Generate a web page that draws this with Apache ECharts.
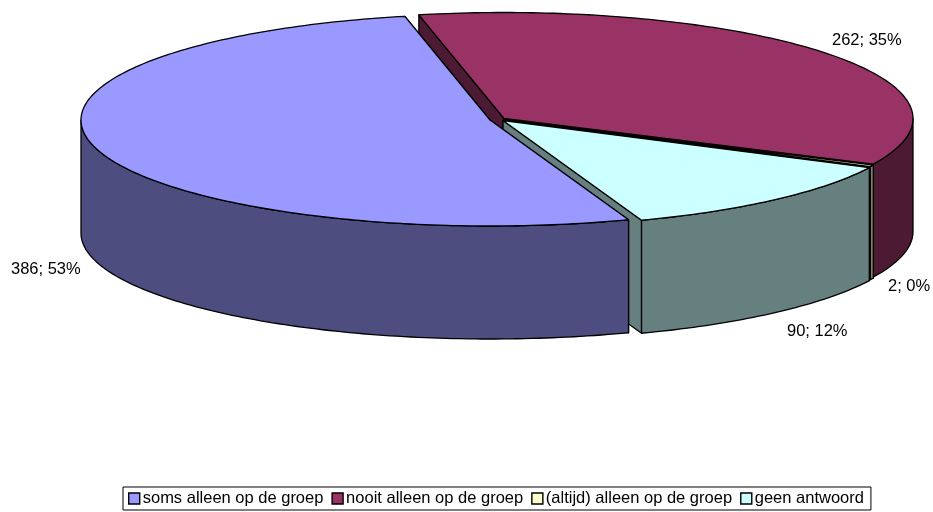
<!DOCTYPE html>
<html><head><meta charset="utf-8">
<style>html,body{margin:0;padding:0;background:#fff}#c{width:933px;height:512px}</style>
<script src="https://cdn.jsdelivr.net/npm/echarts@6/dist/echarts.min.js"></script>
</head><body><div id="c"></div>
<script>
const categories = ['soms alleen op de groep','nooit alleen op de groep','(altijd) alleen op de groep','geen antwoord'];
const values = [386, 262, 2, 90];
const percentLabels = [53, 35, 0, 12];
const topColors = ['#9999FF','#993366','#FFFFCC','#CCFFFF'];
const sideColors = ['#4D4D80','#4D1A33','#808066','#668080'];
const slicePaintOrder = [4, 1, 2, 3];

const startAngle = 160.2, rx = 409, ry = 106, depth = 113;
const centers = [[490,120],[504,118.5],[504,119.5],[503,120.5]];
const labelPos = [[11,269],[832,40],[888,286],[787,331]];
const font = '16.5px "Liberation Sans", Arial, sans-serif';
const total = values.reduce((a,b)=>a+b,0);

function pt(c, deg, dz){
  const r = deg*Math.PI/180;
  return [c[0]+rx*Math.sin(r), c[1]-ry*Math.cos(r)+dz];
}
function arc(c, a0, a1, dz){
  const n = Math.max(2, Math.ceil(Math.abs(a1-a0)));
  const out = [];
  for(let i=0;i<=n;i++) out.push(pt(c, a0+(a1-a0)*i/n, dz));
  return out;
}
function poly(points, fill){
  return {type:'polygon', shape:{points}, style:{fill, stroke:'#000', lineWidth:1.3, lineJoin:'round'}};
}
function makeRender(idx){
  return function(params, api){
    const v = api.value(0);
    let before = 0;
    for(let i=0;i<idx;i++) before += values[i];
    const a0 = startAngle + before/total*360;
    const a1 = a0 + v/total*360;
    const c = centers[idx], side = sideColors[idx];
    const children = [];
    const tip = [c[0],c[1]], tipB = [c[0],c[1]+depth];
    [a0,a1].forEach(a=>{
      children.push(poly([tip, pt(c,a,0), pt(c,a,depth), tipB], side));
    });
    [[90,270],[450,630]].forEach(w=>{
      const s = Math.max(a0,w[0]), e = Math.min(a1,w[1]);
      if(e>s){
        children.push(poly(arc(c,s,e,0).concat(arc(c,e,s,depth)), side));
      }
    });
    children.push(poly([tip].concat(arc(c,a0,a1,0)), topColors[idx]));
    children.push({type:'text', style:{text:v+'; '+percentLabels[idx]+'%', x:labelPos[idx][0], y:labelPos[idx][1], fill:'#000', font, textVerticalAlign:'middle', textAlign:'left'}});
    return {type:'group', children};
  };
}
const chart = echarts.init(document.getElementById('c'), null, {renderer:'canvas'});
chart.setOption({
  animation:false,
  legend:{
    data:categories, left:123, top:487, orient:'horizontal', icon:'rect',
    itemWidth:11, itemHeight:11, itemGap:8, padding:[3,7,3,5],
    borderColor:'#000', borderWidth:1, selectedMode:false,
    itemStyle:{borderColor:'#000', borderWidth:1.4},
    textStyle:{color:'#000', fontFamily:'"Liberation Sans", Arial, sans-serif', fontSize:16.5, lineHeight:17, padding:[0,0,0,-2]}
  },
  series: categories.map((name,i)=>({
    type:'custom', name, coordinateSystem:'none', silent:true, z:slicePaintOrder[i]+1,
    itemStyle:{color:topColors[i]},
    data:[[values[i]]], renderItem:makeRender(i)
  }))
});
</script></body></html>
